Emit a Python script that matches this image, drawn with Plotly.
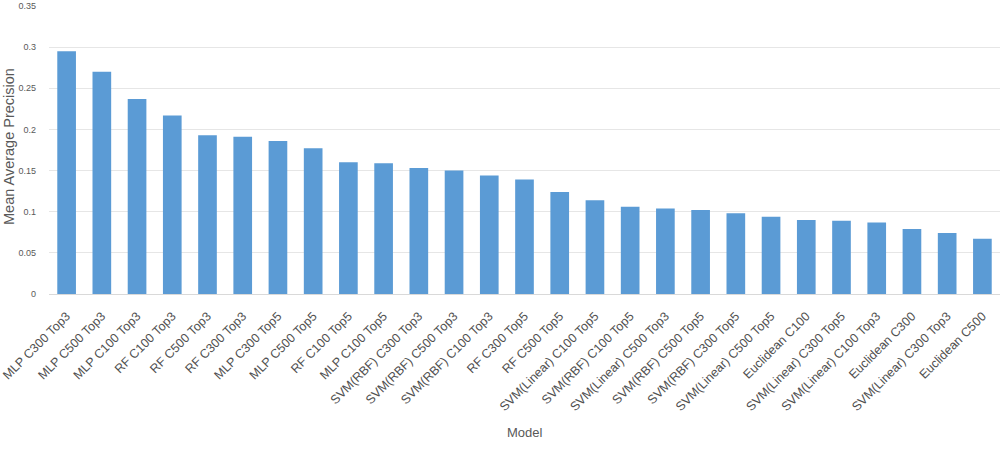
import plotly.graph_objects as go

models = [
    "MLP C300 Top3", "MLP C500 Top3", "MLP C100 Top3", "RF C100 Top3", "RF C500 Top3",
    "RF C300 Top3", "MLP C300 Top5", "MLP C500 Top5", "RF C100 Top5", "MLP C100 Top5",
    "SVM(RBF) C300 Top3", "SVM(RBF) C500 Top3", "SVM(RBF) C100 Top3", "RF C300 Top5",
    "RF C500 Top5", "SVM(Linear) C100 Top5", "SVM(RBF) C100 Top5", "SVM(Linear) C500 Top3",
    "SVM(RBF) C500 Top5", "SVM(RBF) C300 Top5", "SVM(Linear) C500 Top5", "Euclidean C100",
    "SVM(Linear) C300 Top5", "SVM(Linear) C100 Top3", "Euclidean C300",
    "SVM(Linear) C300 Top3", "Euclidean C500",
]
map_values = [
    0.295, 0.270, 0.237, 0.217, 0.193, 0.191, 0.186, 0.177, 0.160, 0.159,
    0.153, 0.150, 0.144, 0.139, 0.124, 0.114, 0.106, 0.104, 0.102, 0.098,
    0.094, 0.090, 0.089, 0.087, 0.079, 0.074, 0.067,
]
y_ticks = [0, 0.05, 0.1, 0.15, 0.2, 0.25, 0.3, 0.35]

W, H = 1005, 453
L, R, T, B = 49, 5, 6, 159
font = "Liberation Sans"

fig = go.Figure(go.Bar(
    x=models, y=map_values, marker=dict(color="#5B9BD5", line=dict(width=0)),
    width=0.53,
))

fig.update_layout(
    width=W, height=H, autosize=False,
    margin=dict(l=L, r=R, t=T, b=B, pad=0),
    plot_bgcolor="white", paper_bgcolor="white",
    showlegend=False,
    font=dict(family=font, color="#595959"),
)
fig.update_xaxes(
    tickangle=-45, tickfont=dict(size=12.5, color="#505050", family=font),
    showgrid=False, showline=True, linecolor="#d9d9d9", linewidth=1,
    ticks="", automargin=False, ticklabelstandoff=9,
)
fig.update_yaxes(
    range=[0, 0.35], tickvals=y_ticks, ticktext=[f"{v:g}" for v in y_ticks],
    showgrid=True, gridcolor="#e6e6e6", gridwidth=1, zeroline=False,
    tickfont=dict(size=9, color="#595959", family=font),
    ticks="", showline=False, automargin=False, ticklabelstandoff=12,
)

plot_w = W - L - R
plot_h = H - T - B
fig.add_annotation(
    text="Model", xref="paper", yref="paper",
    x=0.5, y=(H - B - 432) / plot_h, xanchor="center", yanchor="middle",
    showarrow=False, font=dict(size=13, color="#595959", family=font),
)
fig.add_annotation(
    text="Mean Average Precision", xref="paper", yref="paper",
    x=(9 - L) / plot_w, y=(H - B - 147) / plot_h, xanchor="center", yanchor="middle",
    textangle=-90,
    showarrow=False, font=dict(size=14.5, color="#595959", family=font),
)

fig.write_html("out.html")
